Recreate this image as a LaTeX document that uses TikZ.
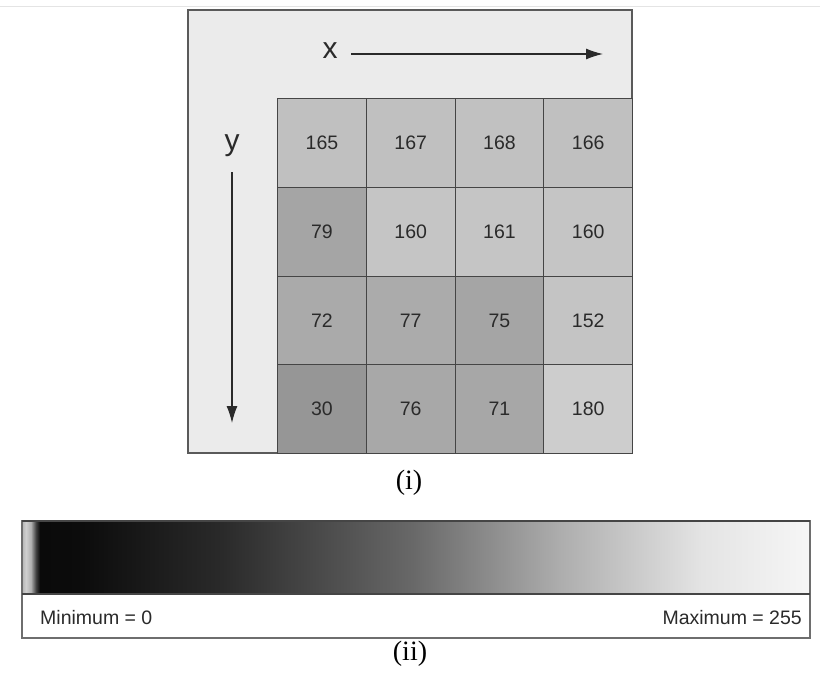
\documentclass[tikz,border=0pt]{standalone}
\usepackage{fontspec}
\setmainfont{Liberation Serif}
\setsansfont{Liberation Sans}
\usetikzlibrary{arrows.meta}

\definecolor{panelbg}{HTML}{EBEBEB}
\definecolor{gridline}{HTML}{454545}
\definecolor{panelline}{HTML}{5A5A5A}
\definecolor{numtext}{HTML}{2A2A2A}
\definecolor{hairline}{HTML}{E4E4E4}
\definecolor{barline}{HTML}{6E6E6E}

% stops of the grey-level bar
\definecolor{g0}{HTML}{B3B3B3}
\definecolor{g1}{HTML}{D0D0D0}
\definecolor{g2}{HTML}{B0B0B0}
\definecolor{g3}{HTML}{404040}
\definecolor{g4}{HTML}{0A0A0A}
\definecolor{g5}{HTML}{0C0C0C}
\definecolor{g6}{HTML}{2A2A2A}
\definecolor{g7}{HTML}{686868}
\definecolor{g8}{HTML}{AEAEAE}
\definecolor{g9}{HTML}{E4E4E4}
\definecolor{g10}{HTML}{F6F6F6}
\pgfdeclarehorizontalshading{graybar}{100bp}{%
  color(0bp)=(g0); color(25bp)=(g0); color(25.25bp)=(g1); color(25.57bp)=(g2);
  color(25.89bp)=(g3); color(26.14bp)=(g4); color(28.81bp)=(g5);
  color(37.69bp)=(g6); color(49.75bp)=(g7); color(59.26bp)=(g8);
  color(68.15bp)=(g9); color(75bp)=(g10); color(100bp)=(g10)}

\tikzset{
  cell/.style={draw=gridline, line width=1.1pt, minimum size=88.75pt,
    inner sep=0pt, anchor=north west, text=numtext,
    font=\sffamily\fontsize{19.5}{19.5}\selectfont},
  axislabel/.style={inner sep=0pt, text=numtext,
    font=\sffamily\fontsize{30}{30}\selectfont},
  axisarrow/.style={draw=numtext, line width=1.2pt,
    -{Latex[length=17pt,width=11pt]}},
  caption/.style={inner sep=0pt, font=\fontsize{28}{28}\selectfont},
  barlabel/.style={inner sep=0pt, text=numtext,
    font=\sffamily\fontsize{19.5}{19.5}\selectfont},
}

\begin{document}
\begin{tikzpicture}[x=1pt,y=-1pt]
\useasboundingbox (0,0) rectangle (820,677);
\fill[white] (0,0) rectangle (820,677);
\draw[hairline, line width=1pt] (0,7) -- (820,7);

% panel (i)
\fill[panelbg] (188,10) rectangle (632,453);
\draw[panelline, line width=1.2pt] (188,10) rectangle (632,453);

\foreach \val/\g [count=\i from 0] in {165/192,167/192,168/193,166/192,
    79/165,160/197,161/197,160/197,
    72/170,77/171,75/165,152/196,
    30/150,76/168,71/167,180/205} {
  \pgfmathtruncatemacro{\col}{mod(\i,4)}
  \pgfmathtruncatemacro{\row}{int(\i/4)}
  \node[cell, fill={rgb,255:red,\g;green,\g;blue,\g}] (c\i)
    at (277+88.75*\col, 98+88.75*\row) {\val};
}

\node[axislabel] (xlab) at (330,51) {x};
\coordinate (xa) at (351,54);
\coordinate (xb) at (603,54);
\draw[axisarrow] (xa) -- (xb);

\node[axislabel] (ylab) at (232,146) {y};
\coordinate (ya) at (232,172);
\coordinate (yb) at (232,423);
\draw[axisarrow] (ya) -- (yb);

\node[caption] (capi) at (409,483) {(i)};

% panel (ii)
\fill[white] (22,521) rectangle (810,638);
\shade[shading=graybar] (22,521) rectangle (810,594);
\draw[barline, line width=1.2pt] (22,521) rectangle (810,638);
\draw[gridline, line width=1.4pt] (22,521) -- (810,521);
\draw[gridline, line width=1.2pt] (22,594) -- (810,594);
\node[barlabel, anchor=west] (minlab) at (40,618) {Minimum = 0};
\node[barlabel, anchor=east] (maxlab) at (802,618) {Maximum = 255};

\node[caption] (capii) at (410,654) {(ii)};
\end{tikzpicture}
\end{document}
